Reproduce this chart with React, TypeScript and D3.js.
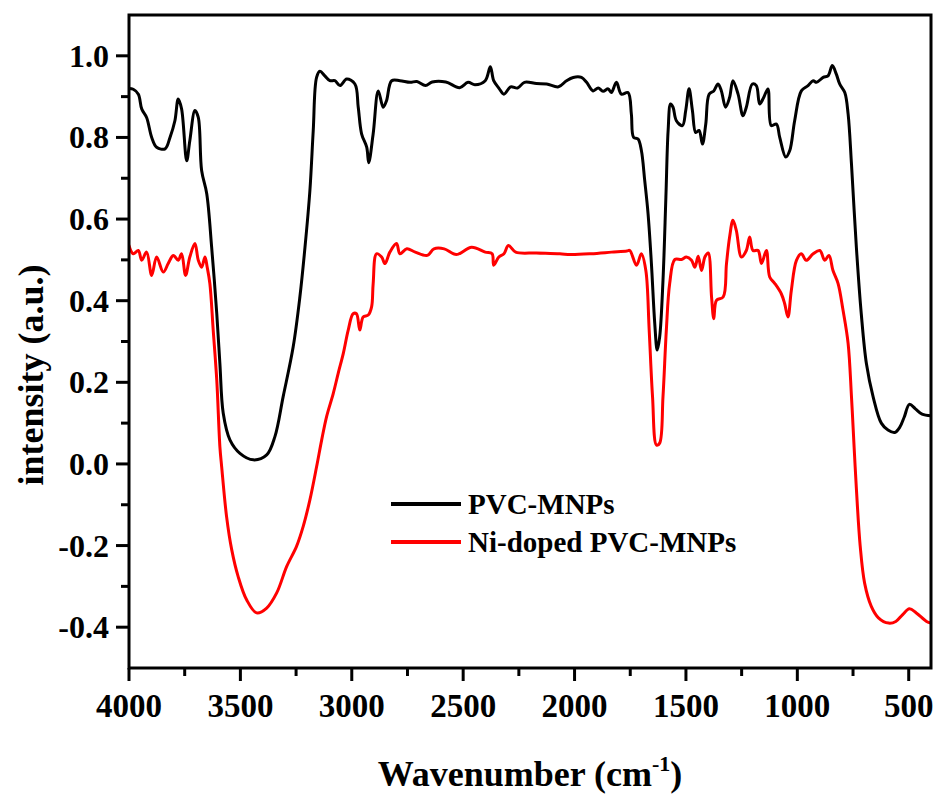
import React from 'react';
import * as d3 from 'd3';

const pvcWavenumber = [4000,3981,3958,3943,3921,3898,3876,3838,3816,3794,3779,3764,3741,3727,3704,3689,3674,3651,3629,3606,3592,3577,3547,3502,3442,3382,3345,3308,3263,3233,3210,3188,3173,3158,3143,3121,3098,3076,3053,3023,2986,2971,2956,2933,2924,2904,2881,2859,2844,2821,2784,2738,2708,2669,2639,2578,2516,2478,2447,2401,2378,2363,2340,2317,2287,2256,2225,2171,2125,2072,2036,2006,1969,1946,1917,1894,1872,1849,1835,1812,1790,1760,1745,1735,1715,1700,1685,1670,1655,1640,1629,1618,1603,1590,1580,1569,1558,1543,1516,1501,1486,1471,1456,1441,1426,1411,1396,1375,1356,1341,1322,1304,1289,1266,1244,1229,1202,1184,1169,1151,1132,1117,1094,1079,1052,1034,1012,982,952,929,914,884,862,843,825,810,787,772,757,735,713,690,660,623,593,563,540,520,497,470,440,400];
const pvcIntensity = [0.920,0.918,0.906,0.870,0.849,0.800,0.776,0.772,0.800,0.841,0.894,0.870,0.743,0.792,0.866,0.849,0.719,0.662,0.531,0.368,0.246,0.124,0.059,0.026,0.010,0.022,0.067,0.165,0.287,0.409,0.531,0.670,0.817,0.947,0.962,0.951,0.939,0.939,0.927,0.943,0.931,0.874,0.809,0.776,0.738,0.809,0.914,0.874,0.890,0.939,0.939,0.935,0.937,0.927,0.936,0.936,0.922,0.935,0.929,0.939,0.973,0.939,0.921,0.906,0.924,0.921,0.935,0.932,0.931,0.924,0.939,0.947,0.947,0.935,0.914,0.921,0.913,0.919,0.910,0.935,0.906,0.910,0.857,0.800,0.796,0.768,0.694,0.613,0.491,0.344,0.279,0.311,0.450,0.654,0.817,0.882,0.874,0.841,0.829,0.866,0.919,0.866,0.812,0.817,0.784,0.833,0.906,0.914,0.931,0.914,0.874,0.898,0.939,0.906,0.853,0.874,0.931,0.927,0.882,0.898,0.919,0.829,0.833,0.800,0.752,0.768,0.841,0.914,0.927,0.939,0.935,0.947,0.951,0.976,0.955,0.931,0.910,0.857,0.735,0.531,0.368,0.246,0.165,0.100,0.083,0.077,0.090,0.115,0.146,0.135,0.122,0.118];

const niWavenumber = [4000,3981,3958,3943,3921,3898,3876,3846,3824,3801,3779,3764,3746,3727,3704,3689,3674,3659,3649,3637,3622,3606,3592,3584,3562,3539,3510,3472,3427,3382,3337,3292,3248,3218,3188,3158,3135,3113,3083,3061,3038,3016,2994,2979,2964,2949,2926,2911,2904,2889,2866,2851,2829,2799,2784,2753,2715,2661,2631,2585,2531,2462,2401,2370,2363,2340,2317,2297,2264,2171,2066,2018,1926,1834,1765,1752,1722,1700,1680,1665,1650,1632,1618,1603,1588,1573,1550,1520,1498,1475,1460,1445,1430,1415,1400,1385,1375,1363,1333,1318,1304,1289,1274,1251,1229,1214,1199,1176,1161,1139,1124,1101,1072,1057,1042,1027,1004,982,960,929,899,877,858,840,817,795,772,757,745,735,718,698,668,636,590,558,527,497,466,420,400];
const niIntensity = [0.535,0.515,0.523,0.499,0.519,0.462,0.507,0.470,0.491,0.511,0.499,0.515,0.462,0.507,0.540,0.499,0.482,0.507,0.482,0.442,0.328,0.205,0.042,-0.007,-0.129,-0.210,-0.276,-0.333,-0.365,-0.353,-0.316,-0.251,-0.202,-0.153,-0.088,-0.007,0.059,0.116,0.173,0.222,0.271,0.328,0.368,0.368,0.328,0.360,0.365,0.385,0.442,0.515,0.507,0.491,0.519,0.540,0.515,0.527,0.519,0.511,0.527,0.527,0.513,0.531,0.519,0.515,0.487,0.507,0.515,0.535,0.519,0.517,0.515,0.513,0.515,0.519,0.522,0.523,0.487,0.515,0.474,0.328,0.165,0.046,0.051,0.165,0.328,0.442,0.501,0.501,0.507,0.499,0.482,0.509,0.474,0.507,0.517,0.409,0.356,0.401,0.409,0.491,0.556,0.597,0.572,0.507,0.523,0.556,0.523,0.523,0.491,0.523,0.458,0.442,0.417,0.393,0.360,0.425,0.499,0.515,0.499,0.515,0.523,0.499,0.511,0.474,0.442,0.377,0.295,0.165,0.040,-0.060,-0.200,-0.292,-0.349,-0.377,-0.390,-0.386,-0.369,-0.355,-0.365,-0.386,-0.390];

const xMajorTicks = [4000, 3500, 3000, 2500, 2000, 1500, 1000, 500];
const xMinorTicks = [3750, 3250, 2750, 2250, 1750, 1250, 750];
const yMajorTicks = [-0.4, -0.2, 0.0, 0.2, 0.4, 0.6, 0.8, 1.0];
const yMinorTicks = [-0.3, -0.1, 0.1, 0.3, 0.5, 0.7, 0.9];
const seriesNames = ['PVC-MNPs', 'Ni-doped PVC-MNPs'];
const seriesColors = ['#000000', '#ff0000'];

const W = 938, H = 794;
const L = 129, R = 931, T = 15, B = 668;
const FONT = '"Liberation Serif", "Times New Roman", serif';

export default function App() {
  const x = d3.scaleLinear().domain([4000, 400]).range([L, R]);
  const y = d3.scaleLinear().domain([-0.5, 1.1]).range([B, T]);
  const line = d3.line<[number, number]>()
    .x(d => x(d[0]))
    .y(d => y(d[1]))
    .curve(d3.curveCatmullRom.alpha(0.5));
  const pvc = pvcWavenumber.map((w, i) => [w, pvcIntensity[i]] as [number, number]);
  const ni = niWavenumber.map((w, i) => [w, niIntensity[i]] as [number, number]);
  const series = [pvc, ni];

  return (
    <svg width={W} height={H} style={{ position: 'absolute', left: 0, top: 0, background: '#fff' }} fontFamily={FONT}>
      <rect x={0} y={0} width={W} height={H} fill="#fff" />
      <defs>
        <clipPath id="plotclip">
          <rect x={L} y={T} width={R - L} height={B - T} />
        </clipPath>
      </defs>
      <g clipPath="url(#plotclip)">
        {series.slice().reverse().map((s, i) => {
          const idx = series.length - 1 - i;
          return <path key={idx} d={line(s) || ''} fill="none" stroke={seriesColors[idx]} strokeWidth={3} strokeLinejoin="round" strokeLinecap="round" />;
        })}
      </g>
      {/* frame */}
      <rect x={L} y={T} width={R - L} height={B - T} fill="none" stroke="#000" strokeWidth={3} />
      {/* x ticks */}
      {xMajorTicks.map(t => (
        <g key={'xM' + t}>
          <line x1={x(t)} x2={x(t)} y1={B} y2={B + 13} stroke="#000" strokeWidth={3} />
          <text x={x(t)} y={717} textAnchor="middle" fontSize={33} fontWeight="bold">{t}</text>
        </g>
      ))}
      {xMinorTicks.map(t => (
        <line key={'xm' + t} x1={x(t)} x2={x(t)} y1={B} y2={B + 8} stroke="#000" strokeWidth={3} />
      ))}
      {/* y ticks */}
      {yMajorTicks.map(t => (
        <g key={'yM' + t}>
          <line x1={L - 13} x2={L} y1={y(t)} y2={y(t)} stroke="#000" strokeWidth={3} />
          <text x={109} y={y(t) + 11} textAnchor="end" fontSize={32} fontWeight="bold">{t.toFixed(1)}</text>
        </g>
      ))}
      {yMinorTicks.map(t => (
        <line key={'ym' + t} x1={L - 8} x2={L} y1={y(t)} y2={y(t)} stroke="#000" strokeWidth={3} />
      ))}
      {/* axis titles */}
      <text x={(L + R) / 2} y={786} textAnchor="middle" fontSize={36} fontWeight="bold">
        Wavenumber (cm<tspan dy={-15} fontSize={22}>-1</tspan><tspan dy={15}>)</tspan>
      </text>
      <text transform="translate(43,375) rotate(-90)" textAnchor="middle" fontSize={36} fontWeight="bold">intensity (a.u.)</text>
      {/* legend */}
      {seriesNames.map((n, i) => (
        <g key={n}>
          <line x1={391} x2={461} y1={504 + i * 38} y2={504 + i * 38} stroke={seriesColors[i]} strokeWidth={4} />
          <text x={468} y={514 + i * 38} fontSize={29} fontWeight="bold">{n}</text>
        </g>
      ))}
    </svg>
  );
}
